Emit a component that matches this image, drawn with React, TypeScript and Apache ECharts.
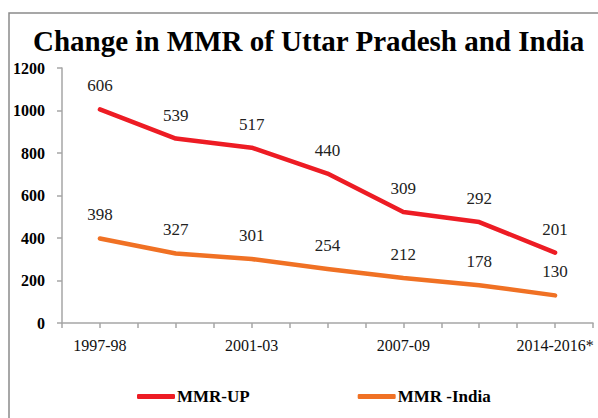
import React, { useEffect, useRef } from "react";
import * as echarts from "echarts";

const categories = ["1997-98", "1999-01", "2001-03", "2004-06", "2007-09", "2010-12", "2014-2016*"];
// UP line as plotted in the picture, and the labels printed on it
const upPlotted = [1005, 868, 825, 703, 522, 475, 331];
const upLabels = [606, 539, 517, 440, 309, 292, 201];
const indiaValues = [398, 327, 301, 254, 212, 178, 130];
const yTicks = { min: 0, max: 1200, interval: 200 };

const SERIF = "Liberation Serif, Times New Roman, serif";

export default function App() {
  const ref = useRef<HTMLDivElement>(null);
  useEffect(() => {
    document.body.style.margin = "0";
    const chart = echarts.init(ref.current!, null, { renderer: "svg" });
    chart.setOption({
      animation: false,
      backgroundColor: "#ffffff",
      textStyle: { fontFamily: SERIF },
      title: {
        text: "Change in MMR of Uttar Pradesh and India",
        left: 28,
        top: 21,
        textStyle: { fontFamily: SERIF, fontWeight: "bold", fontSize: 29, color: "#000" },
      },
      graphic: [
        {
          type: "rect",
          shape: { x: 9, y: 13, width: 700, height: 500 },
          style: { fill: "none", stroke: "#8a8a8a", lineWidth: 1.5 },
          silent: true,
        },
      ],
      legend: {
        top: 383,
        left: 132,
        itemGap: 108,
        itemWidth: 38,
        itemHeight: 5,
        icon: "roundRect",
        textStyle: { fontFamily: SERIF, fontWeight: "bold", fontSize: 17, color: "#000", padding: [0, 0, 0, -3] },
        data: ["MMR-UP", "MMR -India"],
      },
      grid: { left: 62, right: 5, top: 68, bottom: 95 },
      xAxis: [
        {
          type: "category",
          data: categories,
          boundaryGap: true,
          axisLine: { show: false },
          axisTick: { show: false },
          axisLabel: {
            interval: 1,
            margin: 14,
            fontFamily: SERIF,
            fontSize: 16,
            color: "#111",
          },
        },
        {
          type: "value",
          min: 0,
          max: 14,
          interval: 1,
          position: "bottom",
          axisLine: { show: true, lineStyle: { color: "#a6a6a6", width: 1.5 } },
          axisTick: { show: true, length: 5, lineStyle: { color: "#a6a6a6", width: 1.5 } },
          axisLabel: { show: false },
          splitLine: { show: false },
        },
      ],
      yAxis: {
        type: "value",
        min: yTicks.min,
        max: yTicks.max,
        interval: yTicks.interval,
        axisLine: { show: true, lineStyle: { color: "#a6a6a6", width: 1.5 } },
        axisTick: { show: true, length: 5, lineStyle: { color: "#a6a6a6", width: 1.5 } },
        splitLine: { show: false },
        axisLabel: {
          margin: 17,
          fontFamily: SERIF,
          fontWeight: "bold",
          fontSize: 16,
          color: "#000",
          formatter: (v: number) => String(v),
        },
      },
      series: [
        {
          name: "MMR-UP",
          type: "line",
          xAxisIndex: 0,
          data: upPlotted,
          showSymbol: true,
          symbol: "circle",
          symbolSize: 0.1,
          color: "#ed1c24",
          lineStyle: { width: 4.5, color: "#ed1c24", cap: "round", join: "round" },
          label: {
            show: true,
            position: "top",
            distance: 15,
            fontFamily: SERIF,
            fontSize: 17,
            color: "#222",
            formatter: (p: any) => String(upLabels[p.dataIndex]),
          },
        },
        {
          name: "MMR -India",
          type: "line",
          xAxisIndex: 0,
          data: indiaValues,
          showSymbol: true,
          symbol: "circle",
          symbolSize: 0.1,
          color: "#f07124",
          lineStyle: { width: 4.5, color: "#f07124", cap: "round", join: "round" },
          label: {
            show: true,
            position: "top",
            distance: 15,
            fontFamily: SERIF,
            fontSize: 17,
            color: "#222",
          },
        },
      ],
    });
    return () => chart.dispose();
  }, []);
  return <div ref={ref} style={{ width: 598, height: 418 }} />;
}
